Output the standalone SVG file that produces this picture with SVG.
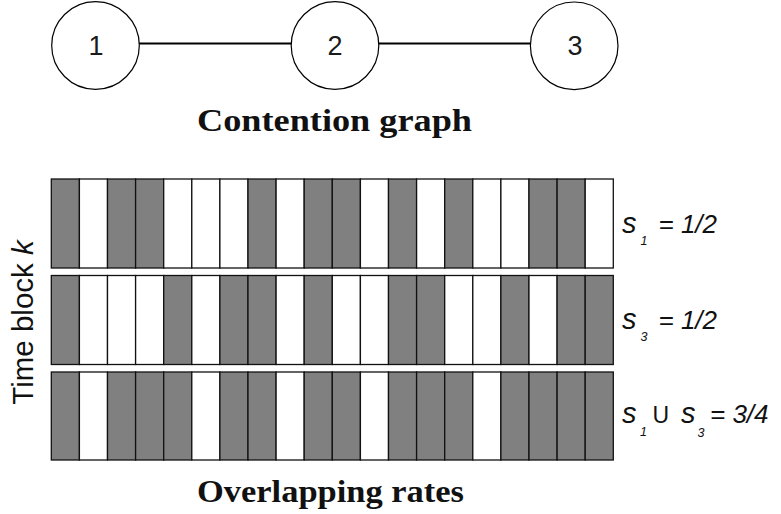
<svg xmlns="http://www.w3.org/2000/svg" width="781" height="514" viewBox="0 0 781 514">
<style>
.node{fill:#fff;stroke:#000;stroke-width:1.2}
.nlab{font-family:"Liberation Sans",Arial,sans-serif;font-size:27px;fill:#1a1a1a;text-anchor:middle}
.edge{stroke:#000;stroke-width:2;fill:none}
.title{font-family:"Liberation Serif","Times New Roman",serif;font-weight:bold;font-size:31px;fill:#111}
.g{fill:#808080;stroke:#111;stroke-width:1.3}
.w{fill:#fff;stroke:#111;stroke-width:1.3}
.lab{font-family:"Liberation Sans",Arial,sans-serif;font-style:italic;font-size:26px;fill:#111}
.s{font-size:29px}
.sub{font-size:12.5px}
.up{font-style:normal;font-size:23px}
.ax{font-family:"Liberation Sans",Arial,sans-serif;font-size:29.5px;fill:#111;text-anchor:middle}
</style>
<rect width="781" height="514" fill="#fff"/>
<g id="connectors">
<line class="edge" x1="139" y1="43.5" x2="291" y2="43.5"/>
<line class="edge" x1="379" y1="43.5" x2="530" y2="43.5"/>
</g>
<g id="node1"><circle class="node" cx="95.5" cy="45.5" r="43.8"/><text class="nlab" x="96" y="55">1</text></g>
<g id="node2"><circle class="node" cx="335" cy="45.5" r="43.8"/><text class="nlab" x="335" y="55">2</text></g>
<g id="node3"><circle class="node" cx="574.2" cy="45.8" r="43.8"/><text class="nlab" x="575" y="55">3</text></g>
<text class="title" x="197" y="130.7" textLength="275" lengthAdjust="spacingAndGlyphs">Contention graph</text>
<g id="row1">
<rect class="g" x="51.3" y="179" width="28.1" height="89"/>
<rect class="w" x="79.4" y="179" width="28.1" height="89"/>
<rect class="g" x="107.5" y="179" width="28.1" height="89"/>
<rect class="g" x="135.6" y="179" width="28.1" height="89"/>
<rect class="w" x="163.7" y="179" width="28.1" height="89"/>
<rect class="w" x="191.8" y="179" width="28.1" height="89"/>
<rect class="w" x="219.9" y="179" width="28.1" height="89"/>
<rect class="g" x="248" y="179" width="28.1" height="89"/>
<rect class="w" x="276.1" y="179" width="28.1" height="89"/>
<rect class="g" x="304.2" y="179" width="28.1" height="89"/>
<rect class="g" x="332.3" y="179" width="28.1" height="89"/>
<rect class="w" x="360.4" y="179" width="28.1" height="89"/>
<rect class="g" x="388.5" y="179" width="28.1" height="89"/>
<rect class="w" x="416.6" y="179" width="28.1" height="89"/>
<rect class="g" x="444.7" y="179" width="28.1" height="89"/>
<rect class="w" x="472.8" y="179" width="28.1" height="89"/>
<rect class="w" x="500.9" y="179" width="28.1" height="89"/>
<rect class="g" x="529" y="179" width="28.1" height="89"/>
<rect class="g" x="557.1" y="179" width="28.1" height="89"/>
<rect class="w" x="585.2" y="179" width="28.1" height="89"/>
</g>
<g id="row2">
<rect class="g" x="51.3" y="275.5" width="28.1" height="89"/>
<rect class="w" x="79.4" y="275.5" width="28.1" height="89"/>
<rect class="w" x="107.5" y="275.5" width="28.1" height="89"/>
<rect class="w" x="135.6" y="275.5" width="28.1" height="89"/>
<rect class="g" x="163.7" y="275.5" width="28.1" height="89"/>
<rect class="w" x="191.8" y="275.5" width="28.1" height="89"/>
<rect class="g" x="219.9" y="275.5" width="28.1" height="89"/>
<rect class="g" x="248" y="275.5" width="28.1" height="89"/>
<rect class="w" x="276.1" y="275.5" width="28.1" height="89"/>
<rect class="g" x="304.2" y="275.5" width="28.1" height="89"/>
<rect class="w" x="332.3" y="275.5" width="28.1" height="89"/>
<rect class="w" x="360.4" y="275.5" width="28.1" height="89"/>
<rect class="g" x="388.5" y="275.5" width="28.1" height="89"/>
<rect class="g" x="416.6" y="275.5" width="28.1" height="89"/>
<rect class="w" x="444.7" y="275.5" width="28.1" height="89"/>
<rect class="w" x="472.8" y="275.5" width="28.1" height="89"/>
<rect class="g" x="500.9" y="275.5" width="28.1" height="89"/>
<rect class="w" x="529" y="275.5" width="28.1" height="89"/>
<rect class="g" x="557.1" y="275.5" width="28.1" height="89"/>
<rect class="g" x="585.2" y="275.5" width="28.1" height="89"/>
</g>
<g id="row3">
<rect class="g" x="51.3" y="372" width="28.1" height="88"/>
<rect class="w" x="79.4" y="372" width="28.1" height="88"/>
<rect class="g" x="107.5" y="372" width="28.1" height="88"/>
<rect class="g" x="135.6" y="372" width="28.1" height="88"/>
<rect class="g" x="163.7" y="372" width="28.1" height="88"/>
<rect class="w" x="191.8" y="372" width="28.1" height="88"/>
<rect class="g" x="219.9" y="372" width="28.1" height="88"/>
<rect class="g" x="248" y="372" width="28.1" height="88"/>
<rect class="w" x="276.1" y="372" width="28.1" height="88"/>
<rect class="g" x="304.2" y="372" width="28.1" height="88"/>
<rect class="g" x="332.3" y="372" width="28.1" height="88"/>
<rect class="w" x="360.4" y="372" width="28.1" height="88"/>
<rect class="g" x="388.5" y="372" width="28.1" height="88"/>
<rect class="g" x="416.6" y="372" width="28.1" height="88"/>
<rect class="g" x="444.7" y="372" width="28.1" height="88"/>
<rect class="w" x="472.8" y="372" width="28.1" height="88"/>
<rect class="g" x="500.9" y="372" width="28.1" height="88"/>
<rect class="g" x="529" y="372" width="28.1" height="88"/>
<rect class="g" x="557.1" y="372" width="28.1" height="88"/>
<rect class="g" x="585.2" y="372" width="28.1" height="88"/>
</g>
<g id="labels">
<text class="lab"><tspan class="s" x="622" y="233">s</tspan><tspan class="sub" x="640.5" y="244.5">1</tspan><tspan x="658.5" y="233">= 1/2</tspan></text>
<text class="lab"><tspan class="s" x="622" y="328.5">s</tspan><tspan class="sub" x="640.5" y="341">3</tspan><tspan x="658.5" y="328.5">= 1/2</tspan></text>
<text class="lab"><tspan class="s" x="622" y="423.3">s</tspan><tspan class="sub" x="640" y="436">1</tspan><tspan class="up" x="652.5" y="423.3">U</tspan><tspan class="s" x="681" y="423.3">s</tspan><tspan class="sub" x="697.5" y="437">3</tspan><tspan x="710" y="423.3">= 3/4</tspan></text>
</g>
<text class="ax" transform="rotate(-90 33 322.5)" x="33" y="322.5">Time block <tspan font-style="italic">k</tspan></text>
<text class="title" x="197" y="501.7" textLength="267" lengthAdjust="spacingAndGlyphs">Overlapping rates</text>
</svg>
